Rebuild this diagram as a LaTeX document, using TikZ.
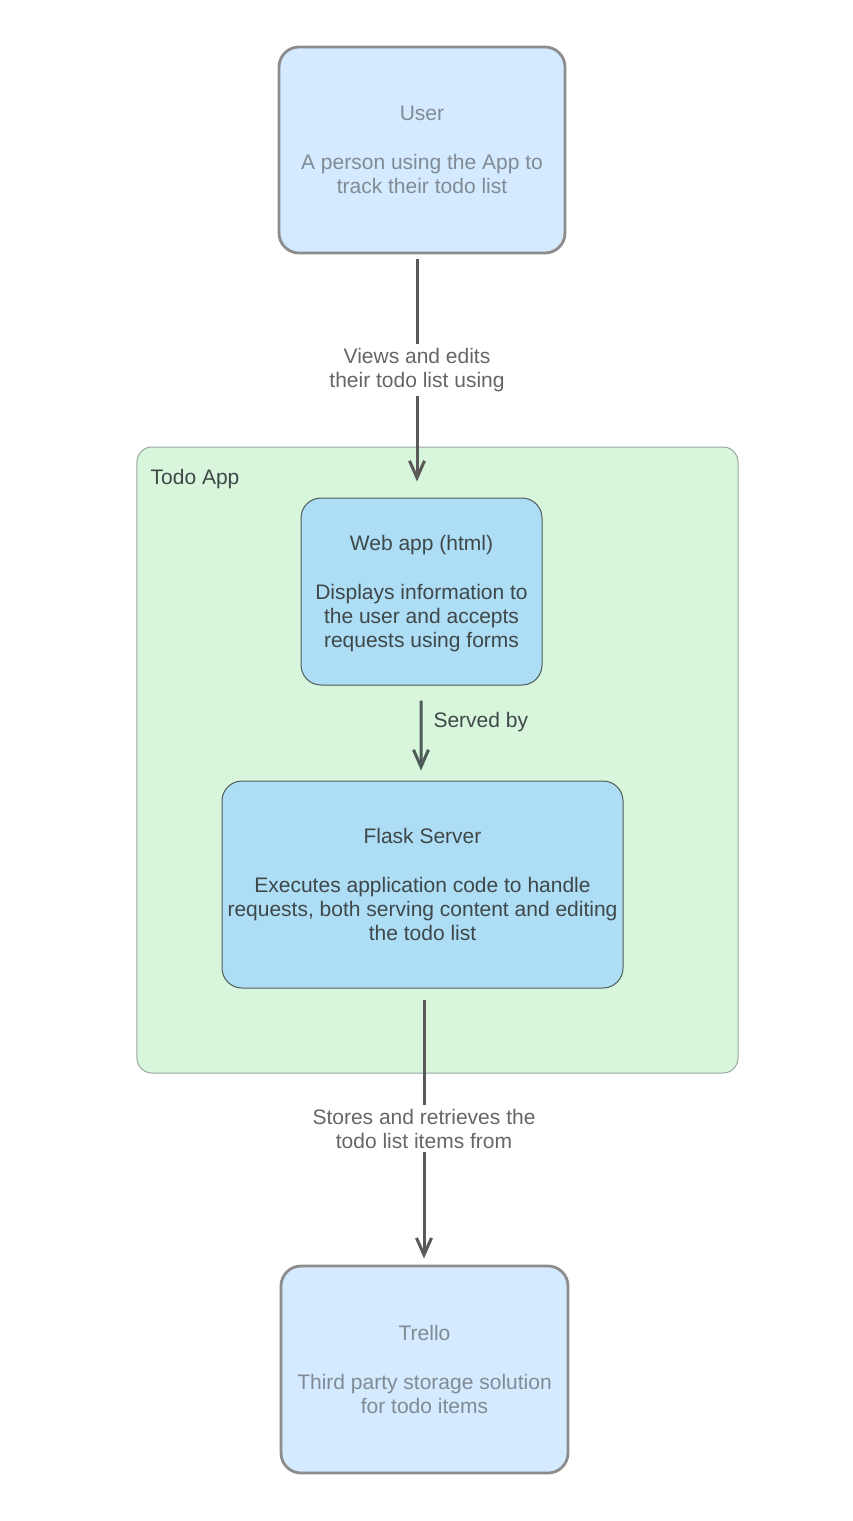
\documentclass[tikz,border=0pt]{standalone}
\usepackage{fontspec}
\setmainfont{Liberation Sans}
\usetikzlibrary{arrows.meta, positioning}

\definecolor{extfill}{HTML}{D4EAFE}
\definecolor{extline}{HTML}{8C8C8C}
\definecolor{exttext}{HTML}{808B96}
\definecolor{appfill}{HTML}{D8F6DC}
\definecolor{appline}{HTML}{9AA59C}
\definecolor{compfill}{HTML}{AEDDF6}
\definecolor{compline}{HTML}{4F5B57}
\definecolor{comptext}{HTML}{3F4848}
\definecolor{linkcol}{HTML}{595959}
\definecolor{labelcol}{HTML}{666666}

\tikzset{
  extbox/.style={draw=extline, line width=2.8bp, fill=extfill, text=exttext,
    rounded corners=20bp, align=center, inner sep=0pt, text depth=0pt},
  compbox/.style={draw=compline, line width=1bp, fill=compfill, text=comptext,
    rounded corners=20bp, align=center, inner sep=0pt, text depth=0pt},
  arrowline/.style={draw=linkcol, line width=3bp,
    -{Straight Barb[length=17bp, width=15bp, line width=3bp]}},
  linklabel/.style={fill=white, text=labelcol, align=center, inner sep=4bp},
}

\begin{document}
\begin{tikzpicture}[x=1bp, y=-1bp, font=\fontsize{21bp}{24bp}\selectfont]
\useasboundingbox (0,0) rectangle (852,1521);

% container
\node[draw=appline, line width=1bp, fill=appfill, rounded corners=15bp,
  minimum width=601bp, minimum height=626bp, inner sep=0pt] (todoapp) at (437.5,760) {};
\node[anchor=west, text=comptext, inner sep=0pt] (applabel)
  at ([xshift=14bp, yshift=-33bp]todoapp.north west) {Todo App};

% boxes
\node[extbox, minimum width=286bp, minimum height=206bp] (user) at (422,150)
  {User\\[25bp]A person using the App to\\track their todo list};

\node[compbox, minimum width=241bp, minimum height=187bp] (webapp) at (421.5,591.5)
  {Web app (html)\\[25bp]Displays information to\\the user and accepts\\requests using forms};

\node[compbox, minimum width=401bp, minimum height=207bp] (flask) at (422.5,884.5)
  {Flask Server\\[25bp]Executes application code to handle\\requests, both serving content and editing\\the todo list};

\node[extbox, minimum width=287bp, minimum height=207bp] (trello) at (424.5,1369.5)
  {Trello\\[25bp]Third party storage solution\\for todo items};

% connectors
\draw[arrowline, shorten <=5bp, shorten >=16bp]
  ([xshift=-5bp]user.south) -- ([xshift=-4.5bp]webapp.north)
  node[pos=.475, linklabel] (viewlabel) {Views and edits\\their todo list using};

\draw[arrowline, draw=compline, shorten <=15bp, shorten >=10bp]
  ([xshift=-0.5bp]webapp.south) -- ([xshift=-1.5bp]flask.north)
  node[pos=.385, anchor=west, xshift=11bp, text=comptext, inner sep=0pt] (servelabel) {Served by};

\draw[arrowline, shorten <=11bp, shorten >=6bp]
  ([xshift=1.5bp]flask.south) -- ([xshift=-0.5bp]trello.north)
  node[pos=.507, linklabel] (storelabel) {Stores and retrieves the\\todo list items from};
\end{tikzpicture}
\end{document}
